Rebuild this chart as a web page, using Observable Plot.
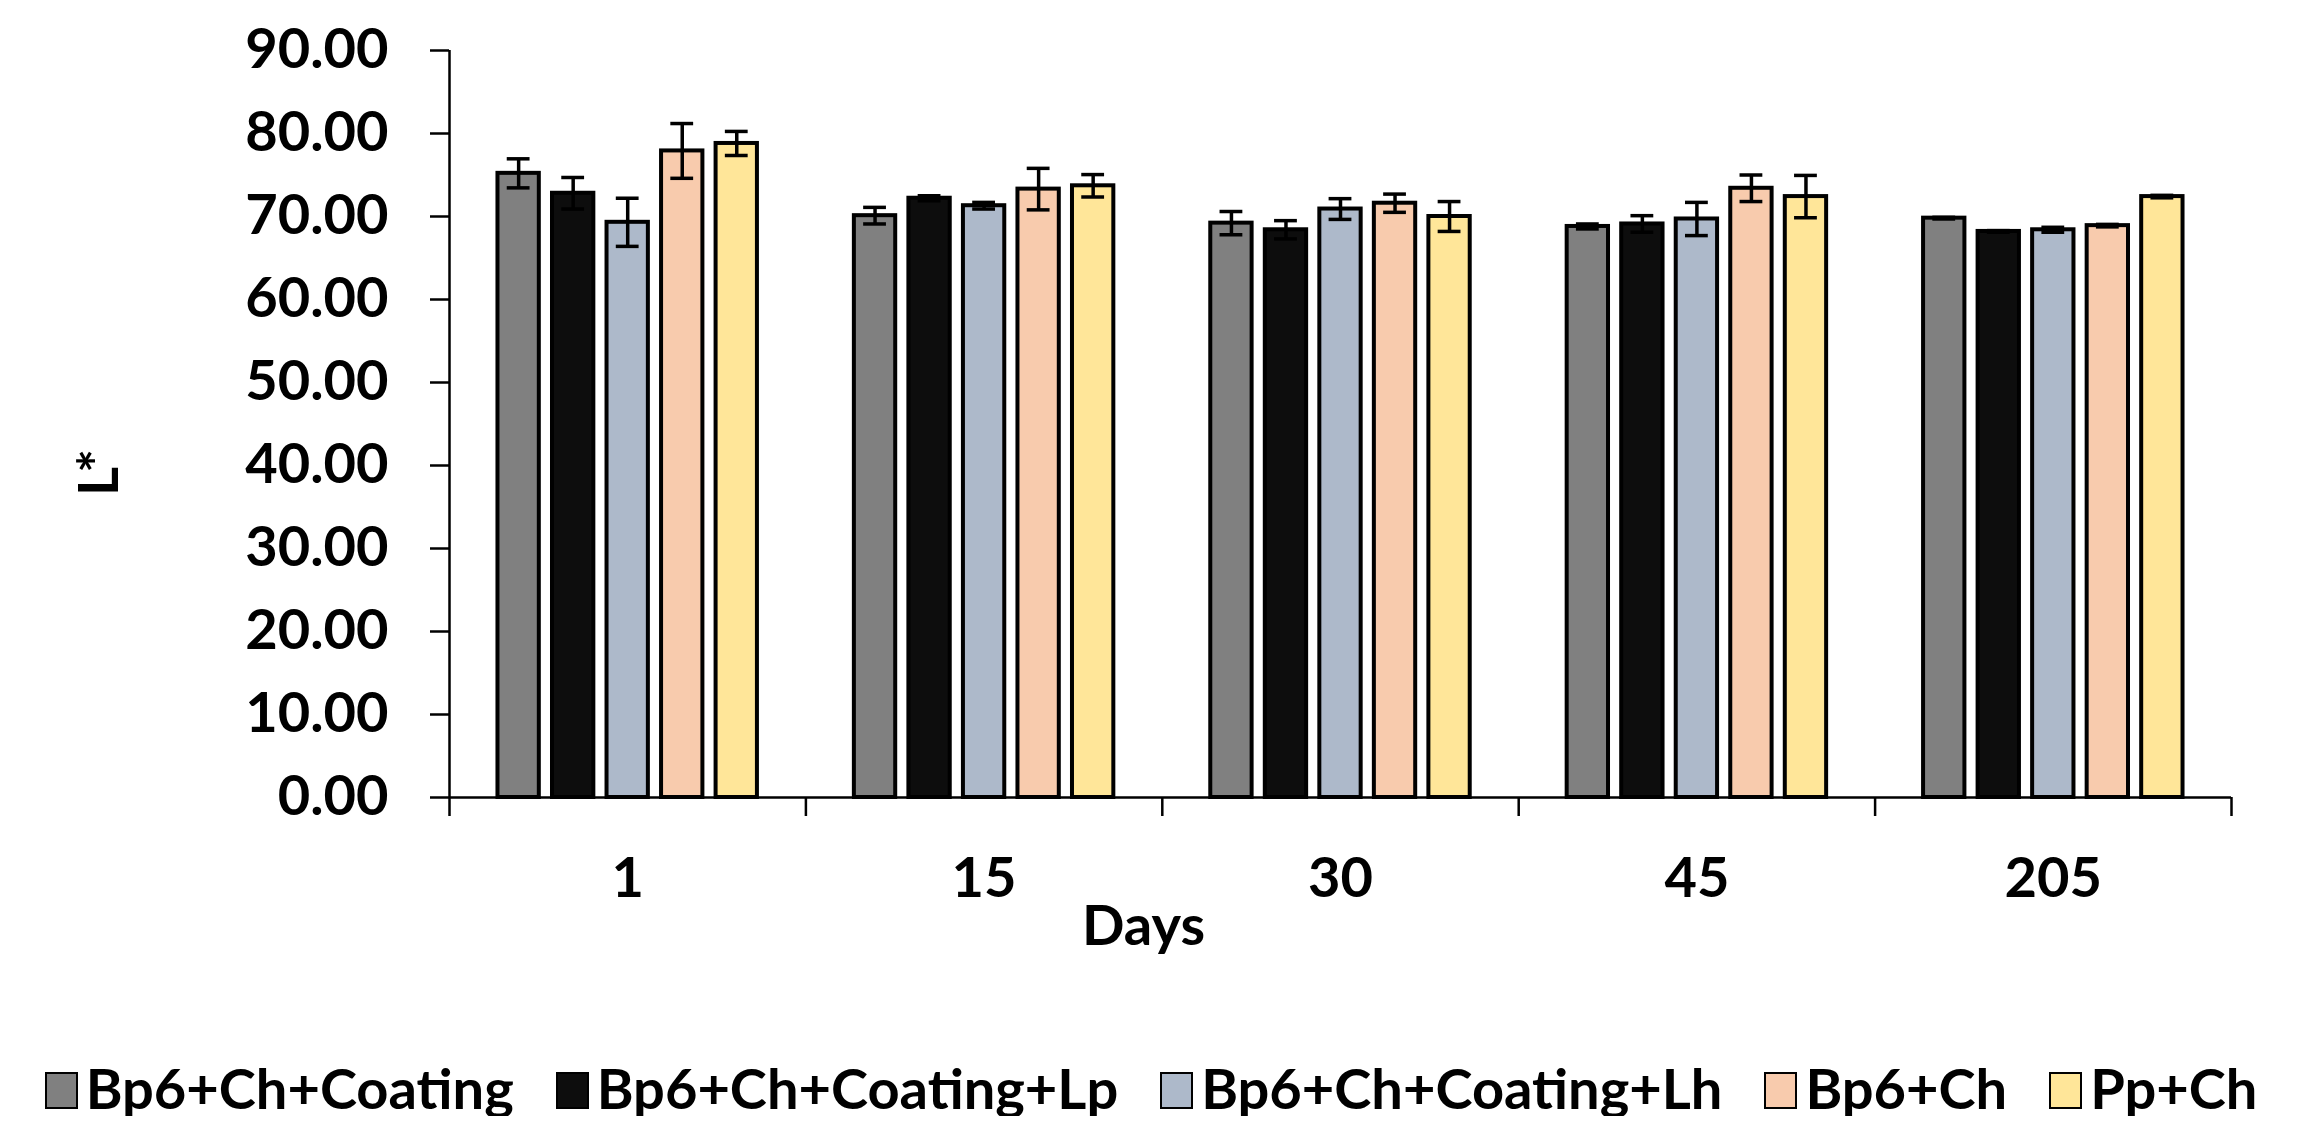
<!DOCTYPE html>
<html>
<head>
<meta charset="utf-8">
<script src="https://cdn.jsdelivr.net/npm/d3@7"></script>
<script src="https://cdn.jsdelivr.net/npm/@observablehq/plot@0.6"></script>
<style>
  html, body { margin: 0; padding: 0; background: #fff; }
  #chart svg { display: block; }
  #legend {
    width: 2302px; display: flex; justify-content: center; align-items: flex-start;
    padding-top: 60px; font-family: Lato, "Open Sans", sans-serif; font-weight: bold;
    font-size: 56px; line-height: 56px; color: #000;
  }
  .item { display: flex; align-items: flex-start; margin: 0 21px; }
  .sw { width: 29px; height: 33px; border: 2.5px solid #000; margin-top: 12px; margin-right: 8px; box-sizing: content-box; }
</style>
</head>
<body>
<div id="chart"></div>
<div id="legend"></div>
<script>
// ---- data ----
const days = ["1", "15", "30", "45", "205"];
const series = ["Bp6+Ch+Coating", "Bp6+Ch+Coating+Lp", "Bp6+Ch+Coating+Lh", "Bp6+Ch", "Pp+Ch"];
const colors = ["#808080", "#0d0d0d", "#adb9ca", "#f8cbad", "#ffe699"];
// mean L* per series, by day
const valBp6ChCoating   = [75.2, 70.1, 69.2, 68.8, 69.8];
const valBp6ChCoatingLp = [72.8, 72.2, 68.4, 69.1, 68.2];
const valBp6ChCoatingLh = [69.3, 71.3, 70.9, 69.7, 68.4];
const valBp6Ch          = [77.9, 73.3, 71.6, 73.4, 68.9];
const valPpCh           = [78.8, 73.7, 70.0, 72.4, 72.4];
// error (± SD) per series, by day
const errBp6ChCoating   = [1.75, 1.0, 1.4, 0.3, 0.1];
const errBp6ChCoatingLp = [1.9, 0.3, 1.1, 1.0, 0.1];
const errBp6ChCoatingLh = [2.9, 0.4, 1.25, 2.0, 0.3];
const errBp6Ch          = [3.3, 2.5, 1.1, 1.6, 0.15];
const errPpCh           = [1.45, 1.35, 1.8, 2.55, 0.15];
const yTicks = [0, 10, 20, 30, 40, 50, 60, 70, 80, 90];

const values = [valBp6ChCoating, valBp6ChCoatingLp, valBp6ChCoatingLh, valBp6Ch, valPpCh];
const errors = [errBp6ChCoating, errBp6ChCoatingLp, errBp6ChCoatingLh, errBp6Ch, errPpCh];

// layout within a category (category = 1 unit on x)
const pitch = 0.153, halfBar = 0.058, capHalf = 0.032;
const table = [];
days.forEach((d, i) => {
  series.forEach((s, j) => {
    const xc = i + 0.5 + (j - (series.length - 1) / 2) * pitch;
    table.push({day: d, series: s, value: values[j][i], err: errors[j][i], xc, x1: xc - halfBar, x2: xc + halfBar});
  });
});

const font = "Lato, 'Open Sans', sans-serif";
const chart = Plot.plot({
  width: 2302,
  height: 1000,
  marginLeft: 449,
  marginRight: 71,
  marginTop: 50,
  marginBottom: 203,
  style: {fontFamily: font, background: "#fff", display: "block"},
  x: {domain: [0, days.length], axis: null},
  y: {domain: [0, 90], axis: null},
  color: {domain: series, range: colors},
  marks: [
    Plot.rect(table, {x1: "x1", x2: "x2", y1: () => 0, y2: "value", fill: "series", stroke: "#000", strokeWidth: 4}),
    Plot.ruleX(table, {x: "xc", y1: d => d.value - d.err, y2: d => d.value + d.err, stroke: "#000", strokeWidth: 3.5}),
    Plot.ruleY(table, {y: d => d.value + d.err, x1: d => d.xc - capHalf, x2: d => d.xc + capHalf, stroke: "#000", strokeWidth: 3.5}),
    Plot.ruleY(table, {y: d => d.value - d.err, x1: d => d.xc - capHalf, x2: d => d.xc + capHalf, stroke: "#000", strokeWidth: 3.5}),
    Plot.ruleX([0], {stroke: "#000", strokeWidth: 2.5}),
    Plot.ruleY([0], {stroke: "#000", strokeWidth: 2.5}),
    Plot.axisY({ticks: yTicks, tickFormat: d => d.toFixed(2), tickSize: 19, tickPadding: 42, label: null,
      fontSize: 56, fontWeight: "bold", color: "#000", strokeWidth: 2.5}),
    Plot.axisX({ticks: d3.range(days.length + 1), tickFormat: () => "", tickSize: 19, label: null,
      color: "#000", strokeWidth: 2.5}),
    Plot.axisX({ticks: days.map((d, i) => i + 0.5), tickFormat: v => days[Math.floor(v)], tickSize: 0, tickPadding: 60,
      label: null, fontSize: 56, fontWeight: "bold", color: "#000"}),
    Plot.text(["Days"], {frameAnchor: "bottom", dx: -197, dy: 108, lineAnchor: "top", fontSize: 56, fontWeight: "bold", fill: "#000"}),
    Plot.text(["L*"], {frameAnchor: "left", dx: -349, dy: 72, rotate: -90, fontSize: 56, fontWeight: "bold", fill: "#000"})
  ]
});
document.getElementById("chart").appendChild(chart);

const legend = document.getElementById("legend");
series.forEach((s, j) => {
  const item = document.createElement("div");
  item.className = "item";
  const sw = document.createElement("div");
  sw.className = "sw";
  sw.style.background = colors[j];
  const t = document.createElement("span");
  t.textContent = s;
  item.appendChild(sw);
  item.appendChild(t);
  legend.appendChild(item);
});
</script>
</body>
</html>
